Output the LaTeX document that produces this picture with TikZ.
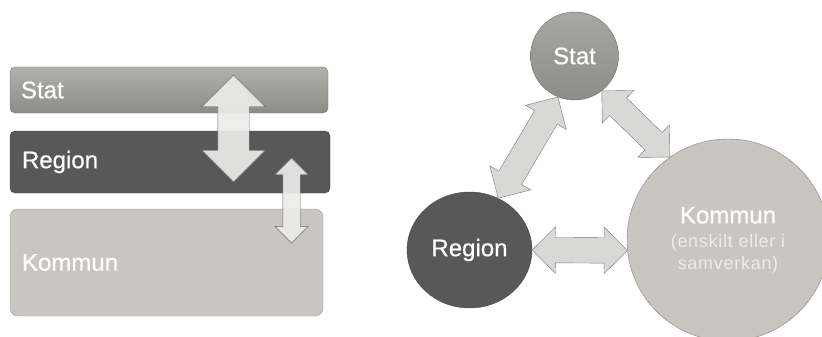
\documentclass[tikz,border=0pt]{standalone}
\usepackage{fontspec}
\setmainfont{Liberation Sans}
\newfontfamily\labelfont[FakeBold=0.6]{Liberation Sans}
\newfontfamily\notefont[LetterSpace=4]{Liberation Sans}
\usetikzlibrary{shapes.geometric,shapes.arrows,calc,positioning}

\definecolor{statlight}{HTML}{B0B0AC}
\definecolor{statdark}{HTML}{8C8C88}
\definecolor{regiongray}{HTML}{585858}
\definecolor{kommungray}{HTML}{C9C5C0}
\definecolor{lightfill}{HTML}{EBEBE9}
\definecolor{linkfill}{HTML}{D8D8D6}
\definecolor{linkline}{HTML}{787878}

% from, to, head width, shaft width
\newcommand\linkarrow[5][]{%
	\path let \p1=($(#3)-(#2)$), \n1={veclen(\x1,\y1)}, \n2={atan2(\y1,\x1)} in
		node[double arrow, draw=linkline, fill=linkfill, inner xsep=0pt, inner ysep=#5/2,
			rotate=\n2, minimum height=\n1, minimum width=#4,
			double arrow head extend={(#4-#5)/2}, #1] at ($(#2)!0.5!(#3)$) {};%
}

\begin{document}
\begin{tikzpicture}[
		x=1pt, y=1pt,
		bar/.style={
				rounded corners=5pt,
				inner sep=0pt
			},
		ball/.style={
				shape=circle,
				inner sep=0pt
			},
		lbl/.style={
				text=white,
				font=\labelfont\fontsize{24}{28}\selectfont,
				inner sep=0pt
			},
	]
	\clip (0,0) rectangle (822,-337);

	\node [bar, top color=statlight, bottom color=statdark, draw=statdark!85!black, minimum width=318, minimum height=46] (sbar) at (169,-90) {};
	\node [bar, fill=regiongray, draw=regiongray!80!black, minimum width=320, minimum height=62] (rbar) at (170,-162) {};
	\node [bar, fill=kommungray, draw=kommungray!80!black, rounded corners=8pt, minimum width=313, minimum height=107] (kbar) at (166.5,-262.5) {};
	\node [lbl, anchor=west, right=11pt of sbar.west] (slbl) {Stat};
	\node [lbl, anchor=west, right=12pt of rbar.west] (rlbl) {Region};
	\node [lbl, anchor=west, right=12pt of kbar.west] (klbl) {Kommun};

	\coordinate (sr top) at (233.5,-75);
	\coordinate (sr bottom) at (233.5,-182);
	\coordinate (rk top) at (291.5,-158);
	\coordinate (rk bottom) at (291.5,-243);
	\linkarrow[fill=lightfill, fill opacity=0.92, draw=linkline!90!black]{sr top}{sr bottom}{63}{31}
	\linkarrow[fill=lightfill, fill opacity=0.92, draw=linkline!90!black]{rk top}{rk bottom}{33}{17}

	\node [ball, lbl, top color=statlight!95!black, bottom color=statdark, draw=statdark!75!black, minimum size=88] (stat) at (574.5,-56) {Stat};
	\node [lbl, shape=ellipse, fill=regiongray, draw=regiongray!80!black, minimum width=125, minimum height=116] (region) at (469.5,-250) {Region};
	\node [ball, fill=kommungray, draw=kommungray!65!black, minimum size=202, text=white, align=center, font=\fontsize{18}{22}\selectfont] (kommun) at (728,-240)
		{{\labelfont\fontsize{24}{26}\selectfont Kommun}\\[2pt]{\notefont\color{white!93!black}(enskilt eller i}\\{\notefont\color{white!93!black}samverkan)}};

	\linkarrow{stat.248}{region.61}{47}{26}
	\linkarrow{stat.308}{kommun.125}{45}{24}
	\linkarrow{region.east}{kommun.186}{46}{25}
\end{tikzpicture}
\end{document}
